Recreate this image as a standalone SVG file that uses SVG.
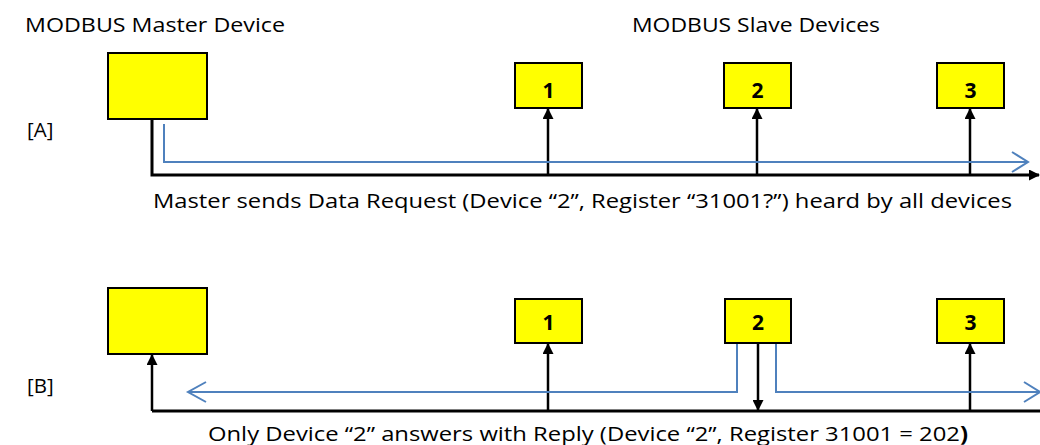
<svg xmlns="http://www.w3.org/2000/svg" width="1040" height="445" viewBox="0 0 1040 445">
<style>
  .lbl { font-family: "Open Sans", "Liberation Sans", sans-serif; font-size: 20.5px; fill: #000; }
  .num { font-family: "Open Sans", "Liberation Sans", sans-serif; font-size: 21px; font-weight: bold; fill: #000; text-anchor: middle; }
  .box { fill: #FFFF00; stroke: #000; stroke-width: 2; }
  .bus { fill: none; stroke: #000; stroke-width: 3; }
  .up { fill: none; stroke: #000; stroke-width: 2.5; marker-end: url(#ah); }
  .sig { fill: none; stroke: #4F81BD; stroke-width: 2; }
</style>
<defs>
  <marker id="ah" markerUnits="userSpaceOnUse" markerWidth="11" markerHeight="11" refX="10" refY="5.5" orient="auto">
    <path d="M0,0 L11,5.5 L0,11 z" fill="#000"/>
  </marker>
</defs>
<rect width="1040" height="445" fill="#fff"/>
<text class="lbl" x="25" y="32" textLength="260" lengthAdjust="spacingAndGlyphs">MODBUS Master Device</text>
<text class="lbl" x="632" y="32" textLength="248" lengthAdjust="spacingAndGlyphs">MODBUS Slave Devices</text>
<text class="lbl" x="27" y="137">[A]</text>
<text class="lbl" x="27" y="393">[B]</text>

<g id="connectors">
  <!-- Section A -->
  <path class="bus" d="M152,119 V175 H1039" marker-end="url(#ah)"/>
  <path class="up" d="M548,175 V109"/>
  <path class="up" d="M757,175 V109"/>
  <path class="up" d="M970,175 V109"/>
  <path class="sig" d="M164,124 V162 H1028"/>
  <path class="sig" d="M1012,152 L1028,162 L1012,172"/>
  <!-- Section B -->
  <path class="bus" d="M152,411 H1040"/>
  <path class="up" d="M152,411 V355"/>
  <path class="up" d="M548,411 V344"/>
  <path class="up" d="M970,411 V344"/>
  <path class="up" d="M758,343 V410"/>
  <path class="sig" d="M737,343 V392 H188"/>
  <path class="sig" d="M206,382 L188,392 L206,402"/>
  <path class="sig" d="M776,343 V392 H1039"/>
  <path class="sig" d="M1024,382 L1040,392 L1024,402"/>
</g>

<g id="masterA"><rect class="box" x="108" y="53" width="99" height="66"/></g>
<g id="slaveA1"><rect class="box" x="515" y="63" width="67" height="45"/><text class="num" x="548.5" y="98">1</text></g>
<g id="slaveA2"><rect class="box" x="724" y="63" width="67" height="45"/><text class="num" x="757.5" y="98">2</text></g>
<g id="slaveA3"><rect class="box" x="937" y="63" width="67" height="45"/><text class="num" x="970.5" y="98">3</text></g>
<text class="lbl" x="153" y="208" textLength="859" lengthAdjust="spacingAndGlyphs">Master sends Data Request (Device “2”, Register “31001?”) heard by all devices</text>

<g id="masterB"><rect class="box" x="108" y="288" width="99" height="66"/></g>
<g id="slaveB1"><rect class="box" x="515" y="299" width="67" height="44"/><text class="num" x="548.5" y="330">1</text></g>
<g id="slaveB2"><rect class="box" x="725" y="299" width="66" height="44"/><text class="num" x="758" y="330">2</text></g>
<g id="slaveB3"><rect class="box" x="937" y="299" width="67" height="44"/><text class="num" x="970.5" y="330">3</text></g>
<text class="lbl" x="208" y="441" textLength="760" lengthAdjust="spacingAndGlyphs">Only Device “2” answers with Reply (Device “2”, Register 31001 = 202<tspan font-weight="bold">)</tspan></text>
</svg>
